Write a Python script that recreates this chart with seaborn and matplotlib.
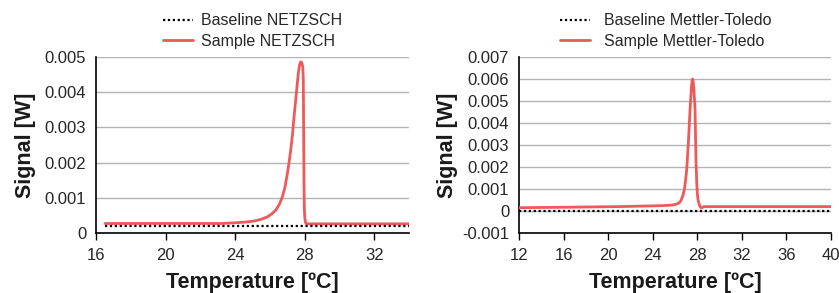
import numpy as np
import pandas as pd
import matplotlib
matplotlib.use("Agg")
import matplotlib.pyplot as plt
import seaborn as sns
from matplotlib.ticker import FuncFormatter

# NETZSCH (left panel)
netzsch_temp = [16.52, 18, 20, 22, 23.2, 24, 24.6, 25.1, 25.5, 25.86, 26.1, 26.34, 26.55,
                26.72, 26.88, 27.01, 27.1, 27.2, 27.3, 27.39, 27.49, 27.58, 27.64, 27.7,
                27.75, 27.8, 27.85, 27.89, 27.92, 27.94, 27.96, 27.98, 28.01, 28.04,
                28.08, 28.2, 30, 32, 34]
netzsch_sample = [0.00027, 0.00027, 0.00027, 0.00027, 0.00027, 0.00029, 0.00031, 0.00034,
                  0.00039, 0.00046, 0.00054, 0.00065, 0.00082, 0.00103, 0.00133, 0.0017,
                  0.002, 0.00236, 0.0028, 0.00331, 0.0038, 0.00427, 0.00456, 0.00476,
                  0.00485, 0.00486, 0.00481, 0.00472, 0.0044, 0.003, 0.0015, 0.0007,
                  0.00042, 0.00032, 0.00027, 0.00026, 0.00026, 0.00026, 0.00026]
netzsch_base_temp = [16.52, 20, 24, 28, 32, 34]
netzsch_base = [0.00021, 0.00021, 0.00021, 0.00021, 0.00021, 0.00021]

# Mettler-Toledo (right panel)
mt_temp = [12, 16, 21, 24.65, 25.5, 26.0, 26.3, 26.5, 26.7, 26.84, 26.95, 27.05, 27.2,
           27.35, 27.47, 27.54, 27.59, 27.64, 27.7, 27.8, 27.88, 27.95, 28.0, 28.07,
           28.12, 28.24, 28.32, 28.39, 28.6, 32, 36, 40]
mt_sample = [0.00015, 0.00017, 0.0002, 0.00024, 0.00026, 0.00029, 0.00035, 0.00044,
             0.00068, 0.00097, 0.0014, 0.00188, 0.0031, 0.0046, 0.0056, 0.00595, 0.006,
             0.00585, 0.0055, 0.0046, 0.00233, 0.0013, 0.00082, 0.0005, 0.0004, 0.00021,
             0.00016, 0.00014, 0.0002, 0.0002, 0.0002, 0.0002]
mt_base_temp = [12, 20, 28, 36, 40]
mt_base = [0, 0, 0, 0, 0]

sns.set_style("white")
plt.rcParams['font.family'] = ['Liberation Sans', 'DejaVu Sans']

red = "#EE5A5A"
fig = plt.figure(figsize=(8.39, 2.93), dpi=100)
ax1 = fig.add_axes([96/839, 1-233/293, 313/839, 176/293])
ax2 = fig.add_axes([519/839, 1-233/293, 312/839, 176/293])

panels = [
    (ax1, netzsch_base_temp, netzsch_base, netzsch_temp, netzsch_sample, "NETZSCH",
     (16, 34), np.arange(16, 33, 4), (0, 0.005), np.arange(0, 0.0051, 0.001), 6, 0.5, 0.5),
    (ax2, mt_base_temp, mt_base, mt_temp, mt_sample, "Mettler-Toledo",
     (12, 40), np.arange(12, 41, 4), (-0.001, 0.007), np.arange(-0.001, 0.0071, 0.001), 3, 0.47, 0.9),
]

for ax, bt, bv, st, sv, name, xl, xt, yl, yt, ypad, legx, tpad in panels:
    base_df = pd.DataFrame({"T": bt, "S": bv})
    samp_df = pd.DataFrame({"T": st, "S": sv})
    sns.lineplot(data=base_df, x="T", y="S", ax=ax, color="black", lw=1.6,
                 linestyle=(0, (1, 1.2)), label="Baseline " + name, zorder=4)
    sns.lineplot(data=samp_df, x="T", y="S", ax=ax, color=red, lw=2,
                 label="Sample " + name, zorder=3)
    ax.set_xlim(*xl)
    ax.set_ylim(*yl)
    ax.set_xticks(xt)
    ax.set_yticks(yt)
    ax.yaxis.set_major_formatter(FuncFormatter(lambda v, p: "0" if abs(v) < 1e-9 else "%g" % round(v, 4)))
    ax.grid(axis="y", color="#b4b4b4", lw=1)
    ax.set_axisbelow(True)
    for s in ["top", "right"]:
        ax.spines[s].set_visible(False)
    for s in ["left", "bottom"]:
        ax.spines[s].set_color("black")
        ax.spines[s].set_linewidth(1.2)
    ax.tick_params(axis="x", length=5, width=1, color="black", direction="out",
                   labelsize=12, pad=6, bottom=True, labelcolor="#262626")
    ax.tick_params(axis="y", length=0, labelsize=12, pad=7, labelcolor="#262626")
    ax.set_xlabel("Temperature [ºC]", fontsize=15.5, fontweight="bold", labelpad=6,
                  color="#1a1a1a")
    ax.set_ylabel("Signal [W]", fontsize=15.5, fontweight="bold", labelpad=ypad,
                  color="#1a1a1a")
    ax.legend(loc="lower center", bbox_to_anchor=(legx, 1.0), frameon=False,
              fontsize=11.5, handlelength=1.9, handletextpad=tpad, labelspacing=0.35,
              borderaxespad=0.1, labelcolor="#262626")

fig.savefig("out.png", dpi=100)
